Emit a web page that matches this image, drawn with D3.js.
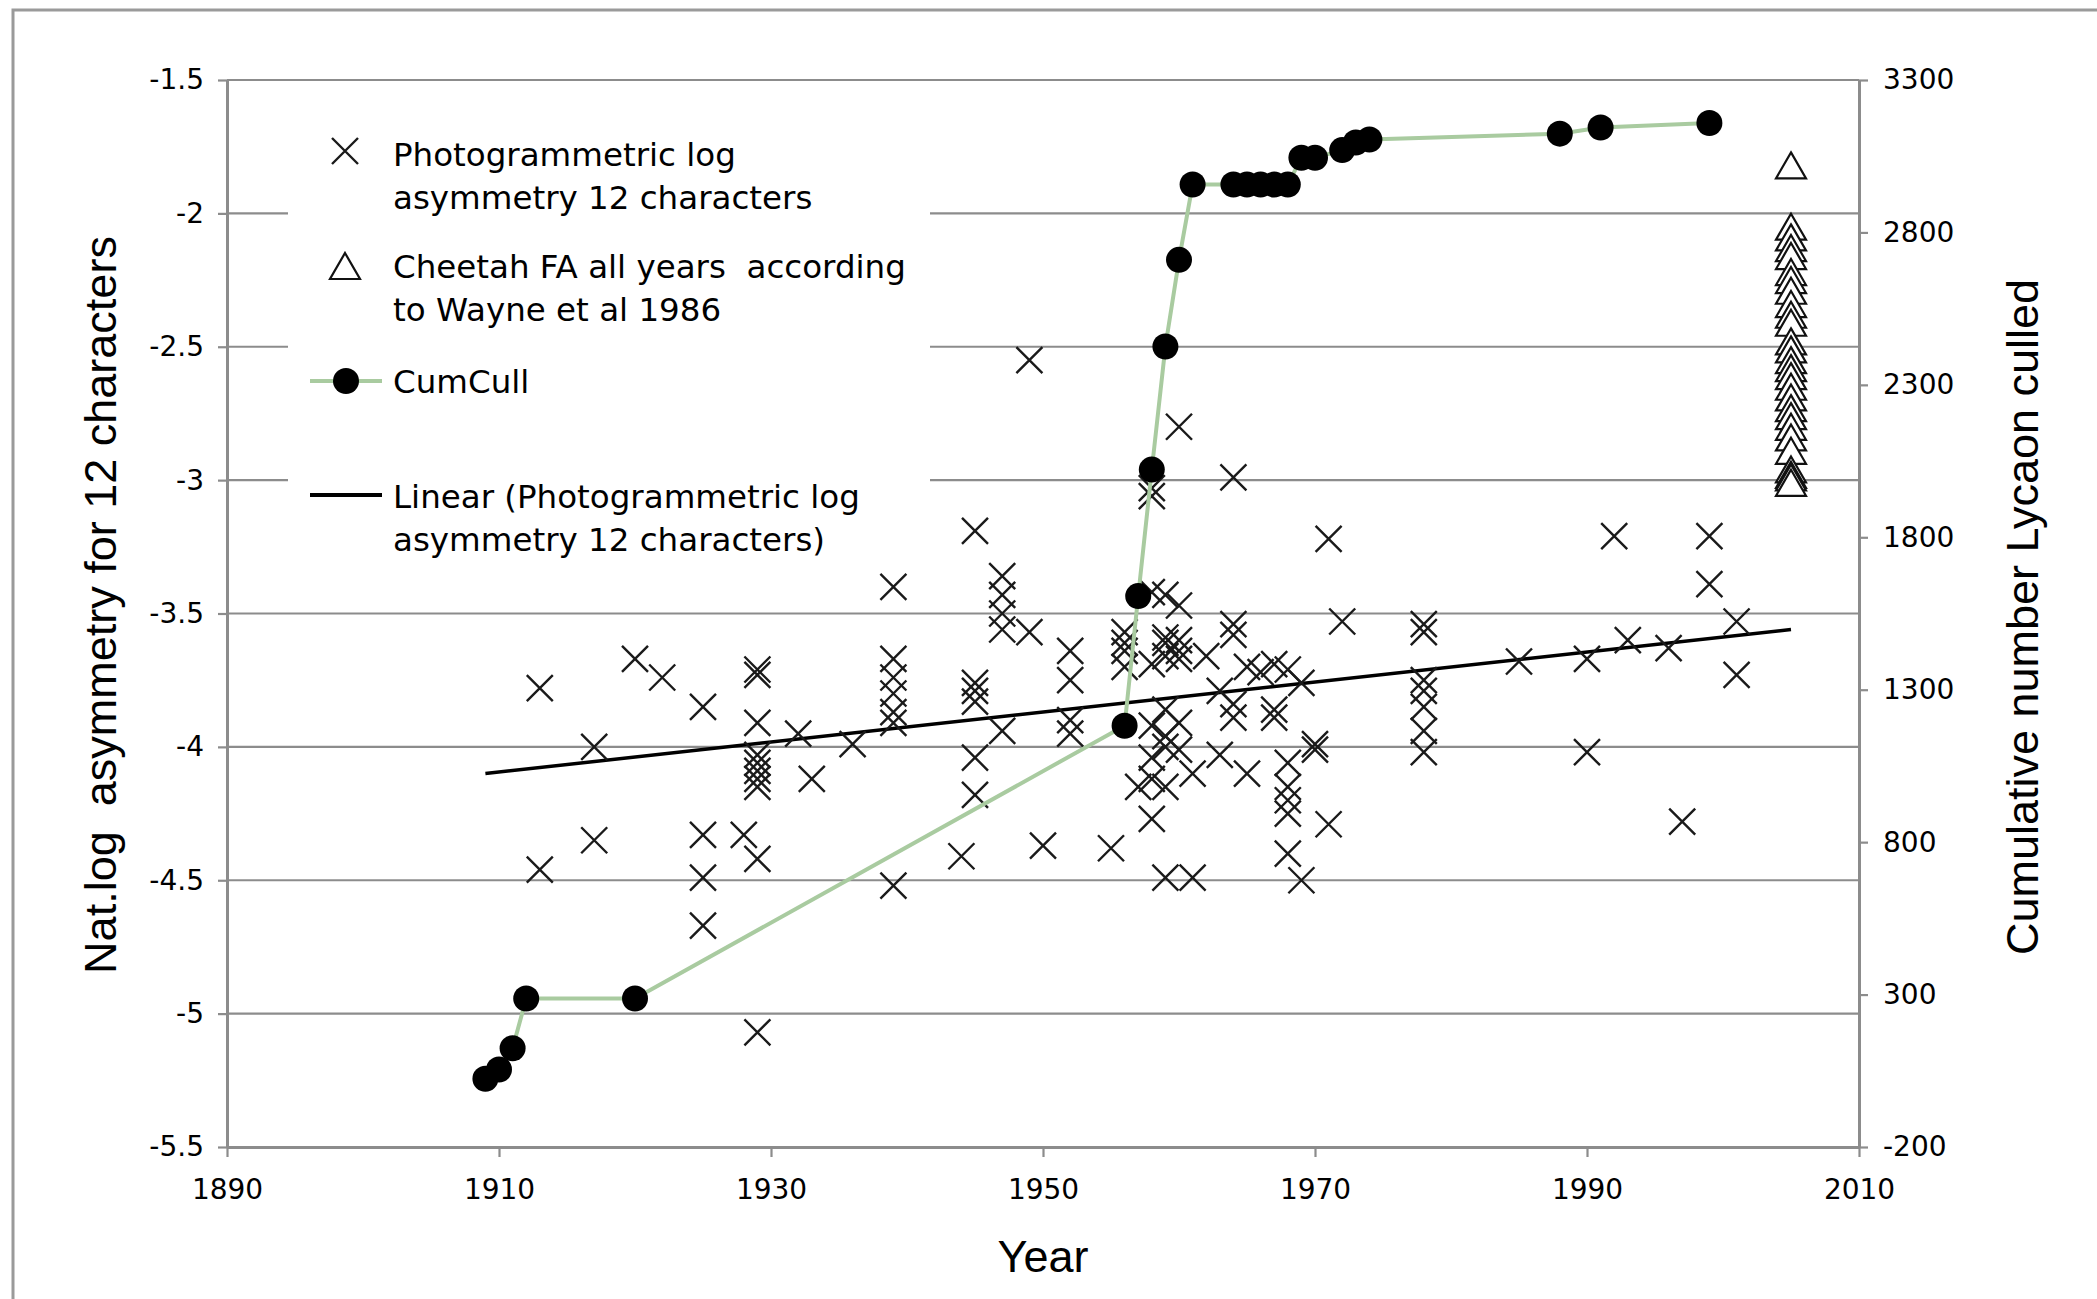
<!DOCTYPE html>
<html>
<head>
<meta charset="utf-8">
<script src="https://cdn.jsdelivr.net/npm/d3@7"></script>
<style>
  body { margin: 0; background: #fff; }
  text { fill: #000; white-space: pre; }
</style>
</head>
<body>
<svg id="chart" width="2097" height="1299"></svg>
<script>
// ---- data ----
const yearTicks = [1890, 1910, 1930, 1950, 1970, 1990, 2010];
const leftTicks = [-1.5, -2, -2.5, -3, -3.5, -4, -4.5, -5, -5.5];
const rightTicks = [3300, 2800, 2300, 1800, 1300, 800, 300, -200];

// CumCull (right axis)
const cullYears = [1909, 1910, 1911, 1912, 1920, 1956, 1957, 1958, 1959, 1960, 1961,
                   1964, 1965, 1966, 1967, 1968, 1969, 1970, 1972, 1973, 1974, 1988, 1991, 1999];
const cullValues = [24, 54, 124, 287, 287, 1182, 1607, 2022, 2426, 2710, 2957,
                    2957, 2957, 2957, 2957, 2957, 3045, 3045, 3070, 3095, 3105, 3124, 3144, 3159];

// Cheetah FA (left axis), all plotted at 2005
const cheetahYears = [2005, 2005, 2005, 2005, 2005, 2005, 2005, 2005, 2005, 2005, 2005, 2005, 2005, 2005,
                      2005, 2005, 2005, 2005, 2005, 2005, 2005, 2005, 2005, 2005, 2005, 2005, 2005];
const cheetahValues = [-1.82, -2.05, -2.09, -2.13, -2.16, -2.22, -2.25, -2.29, -2.34, -2.38, -2.41, -2.48, -2.51, -2.55,
                       -2.58, -2.61, -2.65, -2.69, -2.73, -2.76, -2.80, -2.84, -2.89, -2.96, -2.98, -2.99, -3.01];

// linear trend of the photogrammetric series (end points)
const trendYears = [1909, 2005];
const trendValues = [-4.10, -3.56];

// Photogrammetric log asymmetry (left axis)
const photoYears = [
  1913, 1913, 1917, 1917, 1920, 1922, 1925, 1925, 1925, 1925, 1928,
  1929, 1929, 1929, 1929, 1929, 1929, 1929, 1929, 1929, 1929,
  1932, 1933, 1936,
  1939, 1939, 1939, 1939, 1939, 1939, 1939, 1944,
  1945, 1945, 1945, 1945, 1945, 1945,
  1947, 1947, 1947, 1947, 1947, 1949, 1949, 1950,
  1952, 1952, 1952, 1952, 1955,
  1956, 1956, 1956, 1956, 1957,
  1958, 1958, 1958, 1958, 1958, 1958, 1958, 1958,
  1959, 1959, 1959, 1959, 1959, 1959, 1959, 1959, 1959,
  1960, 1960, 1960, 1960, 1960, 1960, 1960,
  1961, 1961, 1962, 1963, 1963,
  1964, 1964, 1964, 1964, 1964, 1965, 1965, 1966,
  1967, 1967, 1967, 1968, 1968, 1968, 1968, 1968, 1968,
  1969, 1969, 1970, 1970, 1971, 1971, 1972,
  1978, 1978, 1978, 1978, 1978, 1978, 1978,
  1985, 1990, 1990, 1992, 1993, 1996, 1997, 1999, 1999, 2001, 2001
];
const photoValues = [
  -3.78, -4.46, -4.00, -4.35, -3.67, -3.74, -3.85, -4.33, -4.49, -4.67, -4.33,
  -3.71, -3.73, -3.91, -4.03, -4.06, -4.09, -4.12, -4.15, -4.42, -5.07,
  -3.95, -4.12, -3.99,
  -3.40, -3.67, -3.74, -3.80, -3.87, -3.91, -4.52, -4.41,
  -3.19, -3.76, -3.79, -3.83, -4.04, -4.18,
  -3.36, -3.43, -3.50, -3.56, -3.94, -2.55, -3.57, -4.37,
  -3.64, -3.75, -3.90, -3.95, -4.38,
  -3.57, -3.61, -3.64, -3.70, -4.15,
  -3.03, -3.06, -3.42, -3.69, -3.92, -4.04, -4.12, -4.27,
  -3.43, -3.59, -3.61, -3.66, -3.86, -3.96, -4.00, -4.15, -4.49,
  -2.80, -3.47, -3.60, -3.64, -3.67, -3.91, -4.01,
  -4.10, -4.49, -3.66, -3.79, -4.03,
  -2.99, -3.54, -3.58, -3.84, -3.89, -3.70, -4.10, -3.72,
  -3.69, -3.86, -3.89, -3.71, -4.06, -4.15, -4.20, -4.25, -4.40,
  -3.76, -4.50, -3.99, -4.01, -3.22, -4.29, -3.53,
  -3.54, -3.57, -3.75, -3.79, -3.85, -3.94, -4.02,
  -3.68, -3.67, -4.02, -3.21, -3.60, -3.63, -4.28, -3.21, -3.39, -3.53, -3.73
];

// ---- drawing ----
const svg = d3.select("#chart");
const plot = {left: 227, right: 1859, top: 80, bottom: 1147};
const gridColor = "#8c8c8c",
      cullGreen = "#a9cba0",
      tickFont = "'DejaVu Sans', Verdana, sans-serif",
      titleFont = "'Liberation Sans', Arial, sans-serif";

// outer frame
svg.append("rect")
    .attr("x", 13).attr("y", 10)
    .attr("width", 2200).attr("height", 1400)
    .attr("fill", "none").attr("stroke", "#9a9a9a").attr("stroke-width", 3);

const x = d3.scaleLinear().domain([1890, 2010]).range([plot.left, plot.right]);
const yL = d3.scaleLinear().domain([-5.5, -1.5]).range([plot.bottom, plot.top]);
const yR = d3.scaleLinear().domain([-200, 3300]).range([plot.bottom, plot.top]);

// gridlines
svg.append("g")
    .selectAll("line")
    .data(leftTicks.filter(d => d !== -5.5))
    .enter()
    .append("line")
    .attr("x1", plot.left).attr("x2", plot.right)
    .attr("y1", d => yL(d)).attr("y2", d => yL(d))
    .attr("stroke", gridColor).attr("stroke-width", 2.2);

// axes
function styleAxis(g) {
    g.select(".domain").attr("stroke", gridColor).attr("stroke-width", 3);
    g.selectAll(".tick line").attr("stroke", gridColor).attr("stroke-width", 2.2);
    g.selectAll(".tick text")
        .attr("font-family", tickFont).attr("font-size", 28).attr("fill", "#000");
}

svg.append("g")
    .attr("transform", "translate(" + plot.left + ",0)")
    .call(d3.axisLeft(yL).tickValues(leftTicks).tickFormat(d => String(d))
        .tickSizeInner(9).tickSizeOuter(0).tickPadding(14))
    .call(styleAxis);

svg.append("g")
    .attr("transform", "translate(" + plot.right + ",0)")
    .call(d3.axisRight(yR).tickValues(rightTicks).tickFormat(d => String(d))
        .tickSizeInner(9).tickSizeOuter(0).tickPadding(15))
    .call(styleAxis);

svg.append("g")
    .attr("transform", "translate(0," + plot.bottom + ")")
    .call(d3.axisBottom(x).tickValues(yearTicks).tickFormat(d => String(d))
        .tickSizeInner(10).tickSizeOuter(0).tickPadding(22))
    .call(styleAxis);

// axis titles
svg.append("text")
    .attr("transform", "translate(116,605) rotate(-90)")
    .attr("text-anchor", "middle")
    .attr("font-family", titleFont).attr("font-size", 45)
    .text("Nat.log  asymmetry for 12 characters");

svg.append("text")
    .attr("transform", "translate(2038,617) rotate(-90)")
    .attr("text-anchor", "middle")
    .attr("font-family", titleFont).attr("font-size", 45)
    .text("Cumulative number Lycaon culled");

svg.append("text")
    .attr("x", 1043).attr("y", 1272)
    .attr("text-anchor", "middle")
    .attr("font-family", titleFont).attr("font-size", 45)
    .text("Year");

// legend background (hides gridlines under the legend)
svg.append("rect")
    .attr("x", 288).attr("y", 120).attr("width", 642).attr("height", 440)
    .attr("fill", "#fff");

const xMark = s => `M${-s},${-s}L${s},${s}M${-s},${s}L${s},${-s}`;
const triMark = "M0,-13L15,13L-15,13Z";

// trendline
const trendLine = d3.line().x(d => x(d[0])).y(d => yL(d[1]));
svg.append("path")
    .datum(d3.zip(trendYears, trendValues))
    .attr("d", trendLine)
    .attr("fill", "none").attr("stroke", "#000").attr("stroke-width", 3.5);

// photogrammetric crosses
svg.append("g")
    .selectAll("path")
    .data(d3.zip(photoYears, photoValues))
    .enter()
    .append("path")
    .attr("transform", d => "translate(" + x(d[0]) + "," + yL(d[1]) + ")")
    .attr("d", xMark(13))
    .attr("fill", "none").attr("stroke", "#1a1a1a").attr("stroke-width", 2.4);

// cheetah triangles
svg.append("g")
    .selectAll("path")
    .data(d3.zip(cheetahYears, cheetahValues))
    .enter()
    .append("path")
    .attr("transform", d => "translate(" + x(d[0]) + "," + yL(d[1]) + ")")
    .attr("d", triMark)
    .attr("fill", "#fff").attr("stroke", "#111").attr("stroke-width", 2.2);

// CumCull line + dots
const cull = d3.zip(cullYears, cullValues);
svg.append("path")
    .datum(cull)
    .attr("d", d3.line().x(d => x(d[0])).y(d => yR(d[1])))
    .attr("fill", "none").attr("stroke", cullGreen).attr("stroke-width", 4);

svg.append("g")
    .selectAll("circle")
    .data(cull)
    .enter()
    .append("circle")
    .attr("cx", d => x(d[0])).attr("cy", d => yR(d[1]))
    .attr("r", 13)
    .attr("fill", "#000");

// legend
const lg = svg.append("g").attr("font-family", tickFont).attr("font-size", 32.5);
const lgText = (y, t) => lg.append("text").attr("x", 393).attr("y", y).attr("dy", "0.35em").text(t);

lg.append("path").attr("transform", "translate(345,151)").attr("d", xMark(13))
    .attr("fill", "none").attr("stroke", "#1a1a1a").attr("stroke-width", 2.4);
lgText(155, "Photogrammetric log");
lgText(198, "asymmetry 12 characters");

lg.append("path").attr("transform", "translate(345,266)").attr("d", triMark)
    .attr("fill", "#fff").attr("stroke", "#111").attr("stroke-width", 2.2);
lgText(267, "Cheetah FA all years  according");
lgText(310, "to Wayne et al 1986");

lg.append("line").attr("x1", 310).attr("x2", 382).attr("y1", 381).attr("y2", 381)
    .attr("stroke", cullGreen).attr("stroke-width", 4);
lg.append("circle").attr("cx", 346).attr("cy", 381).attr("r", 13).attr("fill", "#000");
lgText(382, "CumCull");

lg.append("line").attr("x1", 310).attr("x2", 382).attr("y1", 495).attr("y2", 495)
    .attr("stroke", "#000").attr("stroke-width", 4);
lgText(497, "Linear (Photogrammetric log");
lgText(540, "asymmetry 12 characters)");
</script>
</body>
</html>
